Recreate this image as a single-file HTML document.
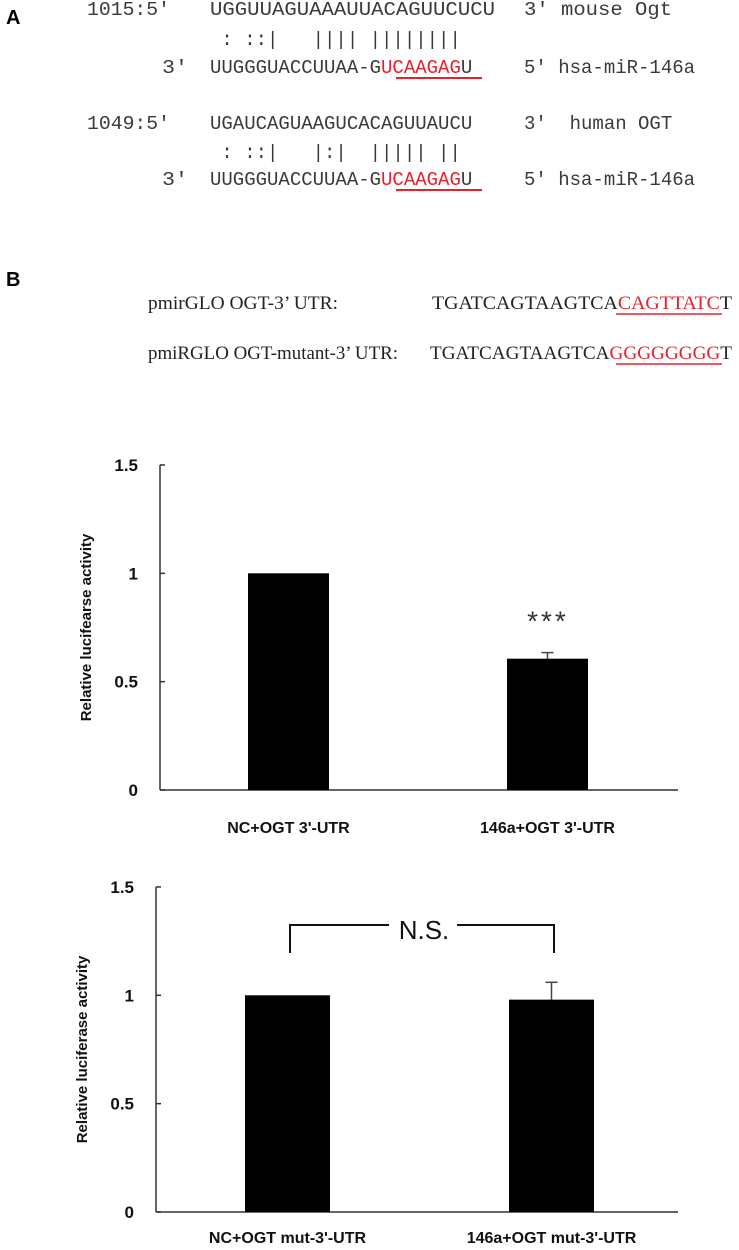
<!DOCTYPE html>
<html><head><meta charset="utf-8"><style>
html,body{margin:0;padding:0;background:#fff;}
svg{display:block;}
.mono{font-family:"Liberation Mono",monospace;font-size:19px;fill:#3a3a3a;}
.ser{font-family:"Liberation Serif",serif;font-size:19px;fill:#222;}
.lab{font-family:"Liberation Sans",sans-serif;font-weight:bold;font-size:20px;fill:#000;}
.tick{font-family:"Liberation Sans",sans-serif;font-weight:bold;font-size:17px;fill:#111;}
.xl{font-family:"Liberation Sans",sans-serif;font-weight:bold;font-size:16px;fill:#111;}
.yt{font-family:"Liberation Sans",sans-serif;font-weight:bold;font-size:15px;fill:#111;}
</style></head><body>
<svg id="fig" width="739" height="1250" viewBox="0 0 739 1250" xmlns="http://www.w3.org/2000/svg">
<g>
<text class="lab" x="6" y="24">A</text>
<text class="mono" x="87" y="15" textLength="83" lengthAdjust="spacingAndGlyphs">1015:5'</text>
<text class="mono" x="210" y="15" textLength="285" lengthAdjust="spacingAndGlyphs">UGGUUAGUAAAUUACAGUUCUCU</text>
<text class="mono" x="524" y="15" textLength="148" lengthAdjust="spacingAndGlyphs">3' mouse Ogt</text>
<text class="mono" x="210" y="45" xml:space="preserve"> : ::|   |||| ||||||||</text>
<text class="mono" x="162" y="73" textLength="26" lengthAdjust="spacingAndGlyphs">3'</text>
<text class="mono" x="210" y="73">UUGGGUACCUUAA-G<tspan fill="#e8202a">UCAAGAG</tspan>U</text>
<line x1="396" y1="78" x2="482" y2="78" stroke="#e8202a" stroke-width="2"/>
<text class="mono" x="524" y="73">5' hsa-miR-146a</text>
<text class="mono" x="87" y="129" textLength="83" lengthAdjust="spacingAndGlyphs">1049:5'</text>
<text class="mono" x="210" y="129">UGAUCAGUAAGUCACAGUUAUCU</text>
<text class="mono" x="524" y="129" xml:space="preserve">3'  human OGT</text>
<text class="mono" x="210" y="158" xml:space="preserve"> : ::|   |:|  ||||| ||</text>
<text class="mono" x="162" y="185" textLength="26" lengthAdjust="spacingAndGlyphs">3'</text>
<text class="mono" x="210" y="185">UUGGGUACCUUAA-G<tspan fill="#e8202a">UCAAGAG</tspan>U</text>
<line x1="396" y1="190" x2="482" y2="190" stroke="#e8202a" stroke-width="2"/>
<text class="mono" x="524" y="185">5' hsa-miR-146a</text>
</g>
<g>
<text class="lab" x="6" y="286">B</text>
<text class="ser" x="148" y="309" textLength="190" lengthAdjust="spacingAndGlyphs">pmirGLO OGT-3’ UTR:</text>
<text class="ser" x="432" y="309" textLength="300" lengthAdjust="spacingAndGlyphs">TGATCAGTAAGTCA<tspan fill="#e8202a">CAGTTATC</tspan>T</text>
<line x1="616" y1="314" x2="722" y2="314" stroke="#e8202a" stroke-width="1.5"/>
<text class="ser" x="148" y="359" textLength="250" lengthAdjust="spacingAndGlyphs">pmiRGLO OGT-mutant-3’ UTR:</text>
<text class="ser" x="430" y="359" textLength="302" lengthAdjust="spacingAndGlyphs">TGATCAGTAAGTCA<tspan fill="#e8202a">GGGGGGGG</tspan>T</text>
<line x1="616" y1="364" x2="722" y2="364" stroke="#e8202a" stroke-width="1.5"/>
</g>
<g id="chart1"></g>
<g id="chart2"></g>
</svg>
<script>
const ticks = [0, 0.5, 1, 1.5];
const tickLabels = ["0", "0.5", "1", "1.5"];
const chart1Categories = ["NC+OGT 3'-UTR", "146a+OGT 3'-UTR"];
const chart1Values = [1.0, 0.606];
const chart1Errors = [0.0, 0.028];
const chart2Categories = ["NC+OGT mut-3'-UTR", "146a+OGT mut-3'-UTR"];
const chart2Values = [1.0, 0.98];
const chart2Errors = [0.0, 0.08];
const NS = "http://www.w3.org/2000/svg";
function mk(tag, attrs, parent){const e=document.createElementNS(NS,tag);for(const k in attrs)e.setAttribute(k,attrs[k]);parent.appendChild(e);return e;}
function drawChart(g, cfg, cats, vals, errs){
  const y = v => cfg.y0 - v * cfg.unit;
  const barX = i => cfg.bar0 + i * cfg.barStep;
  const ax = mk('line',{x1:cfg.ax,y1:y(1.5),x2:cfg.ax,y2:y(0),stroke:'#333','stroke-width':1.5},g);
  
  
  const bx = mk('line',{x1:cfg.ax,y1:y(0),x2:cfg.axEnd,y2:y(0),stroke:'#333','stroke-width':1.5},g);
  
  
  ticks.forEach((t,i)=>{
    const tl = mk('line',{x1:cfg.ax,y1:y(t),x2:cfg.ax+5,y2:y(t),stroke:'#333','stroke-width':1.5},g);
    
    
    const tx = mk('text',{x:cfg.ax-22,y:y(t)+6,'text-anchor':'end',class:'tick'},g);
    
    
    tx.textContent = tickLabels[i];
  });
  const yt = mk('text',{x:0,y:0,class:'yt','text-anchor':'middle',transform:'translate('+cfg.ytX+','+y(0.75)+') rotate(-90)'},g);
  
  
  yt.textContent = cfg.title;
  vals.forEach((v,i)=>{
    const x = barX(i);
    const r = mk('rect',{x:x,y:y(v),width:cfg.barW,height:y(0)-y(v),fill:'#000'},g);
    
    
    const cx = x + cfg.barW/2;
    if(errs[i]>0){
      const e1 = mk('line',{x1:cx,y1:y(v),x2:cx,y2:y(v+errs[i]),stroke:'#444','stroke-width':1.5},g);
      
      
      const e2 = mk('line',{x1:cx-6,y1:y(v+errs[i]),x2:cx+6,y2:y(v+errs[i]),stroke:'#444','stroke-width':1.5},g);
      
      
    }
    const lb = mk('text',{x:cx,y:y(0)+cfg.labOff,'text-anchor':'middle',class:'xl'},g);
    
    
    lb.textContent = cats[i];
  });
  return {y:y, barX:barX};
}
const c1 = drawChart(document.getElementById('chart1'),
  {y0:790,unit:216.7,ax:160,axEnd:678,bar0:248,barStep:259,barW:81,ytX:91,labOff:43,title:'Relative lucifearse activity'},
  chart1Categories, chart1Values, chart1Errors);
const st = mk('text',{x:548,y:c1.y(chart1Values[1]+chart1Errors[1])-22,'text-anchor':'middle','font-family':'Liberation Sans, sans-serif','font-size':'28px','letter-spacing':'3px',fill:'#333'},document.getElementById('chart1'));


st.textContent = '***';
const g2 = document.getElementById('chart2');
const c2 = drawChart(g2,
  {y0:1212,unit:216.7,ax:156,axEnd:678,bar0:245,barStep:264,barW:85,ytX:87,labOff:31,title:'Relative luciferase activity'},
  chart2Categories, chart2Values, chart2Errors);
const br = mk('path',{d:'M290 953 V925 H389 M457 925 H554 V953',fill:'none',stroke:'#111','stroke-width':2},g2);


const ns = mk('text',{x:424,y:939,'text-anchor':'middle','font-family':'Liberation Sans, sans-serif','font-size':'26px',fill:'#111'},g2);


ns.textContent = 'N.S.';
</script>
</body></html>
